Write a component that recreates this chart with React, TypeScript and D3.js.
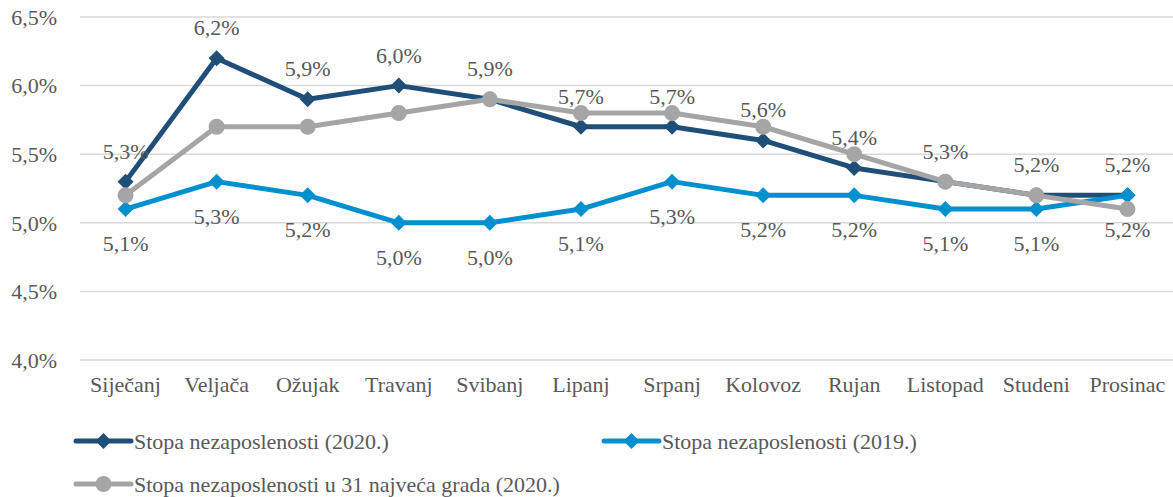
import React from "react";
import * as d3 from "d3";

const months = ["Siječanj", "Veljača", "Ožujak", "Travanj", "Svibanj", "Lipanj", "Srpanj", "Kolovoz", "Rujan", "Listopad", "Studeni", "Prosinac"];
const rate2020 = [5.3, 6.2, 5.9, 6.0, 5.9, 5.7, 5.7, 5.6, 5.4, 5.3, 5.2, 5.2];
const rate2019 = [5.1, 5.3, 5.2, 5.0, 5.0, 5.1, 5.3, 5.2, 5.2, 5.1, 5.1, 5.2];
const rateCities = [5.2, 5.7, 5.7, 5.8, 5.9, 5.8, 5.8, 5.7, 5.5, 5.3, 5.2, 5.1];
const yTicks = [4.0, 4.5, 5.0, 5.5, 6.0, 6.5];
const seriesNames = ["Stopa nezaposlenosti (2020.)", "Stopa nezaposlenosti (2019.)", "Stopa nezaposlenosti u 31 najveća grada (2020.)"];

const W = 1173, H = 497;
const FONT = "Liberation Serif, Times New Roman, Tinos, DejaVu Serif, serif";
const TXT = "#595959";
const C2020 = "#1F4E79";
const C2019 = "#0090D0";
const CCITY = "#A5A5A5";

const fmt = (v: number) => v.toFixed(1).replace(".", ",") + "%";

function Diamond({ x, y, color, s = 8 }: { x: number; y: number; color: string; s?: number }) {
  return <path d={`M${x},${y - s}L${x + s},${y}L${x},${y + s}L${x - s},${y}Z`} fill={color} />;
}

export default function App() {
  const x = d3.scaleBand<string>().domain(months).range([80, 1173]);
  const y = d3.scaleLinear().domain([4, 6.5]).range([360, 17]);
  const cx = (m: string) => (x(m) as number) + x.bandwidth() / 2;
  const line = d3.line<number>().x((_, i) => cx(months[i])).y((d) => y(d));
  const ts: React.CSSProperties = { fontFamily: FONT, fontSize: 22, fill: TXT };

  return (
    <svg width={W} height={H} style={{ position: "absolute", left: 0, top: 0, background: "#fff" }}>
      {yTicks.map((t) => (
        <g key={t}>
          <line x1={80} x2={1173} y1={y(t)} y2={y(t)} stroke="#D9D9D9" strokeWidth={1.5} />
          <text x={57} y={y(t)} dy="0.35em" textAnchor="end" style={ts}>
            {fmt(t)}
          </text>
        </g>
      ))}
      {months.map((m) => (
        <text key={m} x={cx(m)} y={392} textAnchor="middle" style={ts}>
          {m}
        </text>
      ))}
      <path d={line(rate2020) || ""} fill="none" stroke={C2020} strokeWidth={5} strokeLinejoin="round" />
      {rate2020.map((v, i) => <Diamond key={i} x={cx(months[i])} y={y(v)} color={C2020} />)}
      <path d={line(rate2019) || ""} fill="none" stroke={C2019} strokeWidth={5} strokeLinejoin="round" />
      {rate2019.map((v, i) => <Diamond key={i} x={cx(months[i])} y={y(v)} color={C2019} />)}
      <path d={line(rateCities) || ""} fill="none" stroke={CCITY} strokeWidth={5} strokeLinejoin="round" />
      {rateCities.map((v, i) => <circle key={i} cx={cx(months[i])} cy={y(v)} r={8} fill={CCITY} />)}
      {rate2020.map((v, i) => (
        <text key={i} x={cx(months[i])} y={y(v) - 23} textAnchor="middle" style={ts}>
          {fmt(v)}
        </text>
      ))}
      {rate2019.map((v, i) => (
        <text key={i} x={cx(months[i])} y={y(v) + 42} textAnchor="middle" style={ts}>
          {fmt(v)}
        </text>
      ))}
      {[
        { name: seriesNames[0], color: C2020, x0: 76, yy: 441, mk: "d" },
        { name: seriesNames[1], color: C2019, x0: 604, yy: 441, mk: "d" },
        { name: seriesNames[2], color: CCITY, x0: 76, yy: 484, mk: "c" },
      ].map((l) => (
        <g key={l.name}>
          <line x1={l.x0} x2={l.x0 + 55} y1={l.yy} y2={l.yy} stroke={l.color} strokeWidth={5} strokeLinecap="round" />
          {l.mk === "d" ? <Diamond x={l.x0 + 27.5} y={l.yy} color={l.color} /> : <circle cx={l.x0 + 27.5} cy={l.yy} r={8} fill={l.color} />}
          <text x={l.x0 + 58} y={l.yy} dy="0.35em" style={ts}>
            {l.name}
          </text>
        </g>
      ))}
    </svg>
  );
}
